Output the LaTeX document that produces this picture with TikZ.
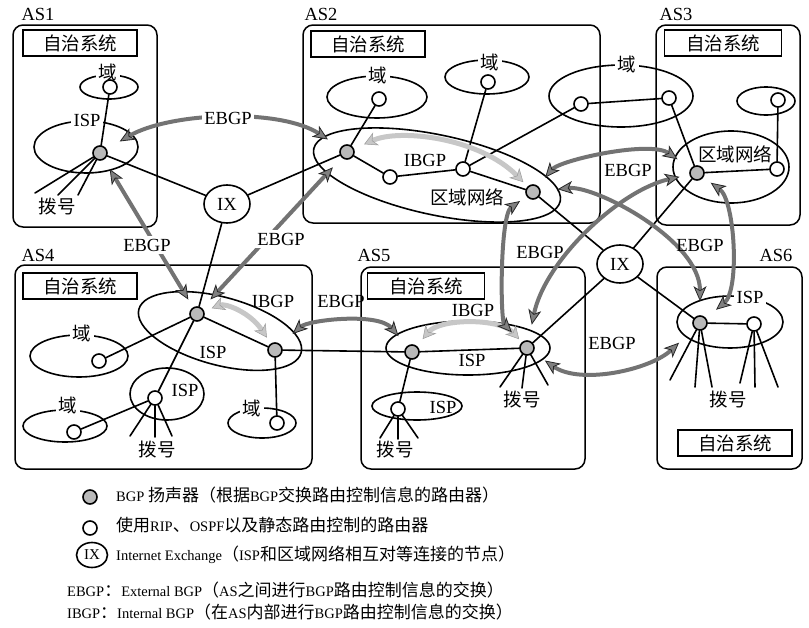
\documentclass[tikz,border=0pt]{standalone}
\usepackage{fontspec}
\setmainfont{Liberation Serif}
\newfontfamily\cjkf{Noto Sans CJK SC}
\usetikzlibrary{arrows.meta,shapes.geometric}
\newcommand\lc[1]{{\cjkf\fontsize{17}{18}\selectfont #1}}
\begin{document}
\begin{tikzpicture}[x=1pt,y=-1pt,
  font=\fontsize{18.5}{20}\selectfont,
  line cap=round,
  asbox/.style={draw,line width=1.5pt,rounded corners=10pt},
  namebox/.style={draw,line width=1.5pt,minimum width=114pt,minimum height=26pt,inner sep=0pt,font=\cjkf\fontsize{18.5}{20}\selectfont},
  ell/.style={draw,line width=1.6pt},
  link/.style={draw,line width=1.6pt},
  bgp/.style={circle,draw,line width=1.6pt,fill=gray!55,minimum size=14pt,inner sep=0pt},
  rtr/.style={circle,draw,line width=1.6pt,fill=white,minimum size=14pt,inner sep=0pt},
  ixn/.style={ellipse,draw,line width=1.6pt,fill=white,minimum width=46pt,minimum height=38pt,inner sep=0pt},
  gap/.style={fill=white,inner sep=2.5pt},
  lab/.style={inner sep=1pt},
  cj/.style={font=\cjkf\fontsize{18.5}{20}\selectfont},
  ebgp/.style={draw=black!55,line width=4pt,line cap=butt,
     >={Stealth[length=15pt,width=13pt,inset=4pt,line width=0.8pt,color=black!85,fill=black!50]},<->},
  ibgp/.style={draw=black!22,line width=5pt,line cap=butt,
     >={Stealth[length=13pt,width=14pt,inset=4pt,line width=0.5pt,color=black!40,fill=black!22]},<->}
]
\useasboundingbox (0,0) rectangle (809,627);

% ---------- AS boxes ----------
\draw[asbox] (13,25) rectangle (157,227);
\draw[asbox] (303,25) rectangle (600,223);
\draw[asbox] (656,25) rectangle (800,225);
\draw[asbox] (15,265) rectangle (312,469);
\draw[asbox] (361,267) rectangle (585,469);
\draw[asbox] (657,267) rectangle (802,469);
\node[lab] (as1) at (38,14) {AS1};
\node[lab] (as2) at (321,14) {AS2};
\node[lab] (as3) at (676,14) {AS3};
\node[lab] (as4) at (38,255) {AS4};
\node[lab] (as5) at (374,255) {AS5};
\node[lab] (as6) at (776,255) {AS6};
\node[namebox] (nb1) at (80,43) {自治系统};
\node[namebox] (nb2) at (368,44) {自治系统};
\node[namebox,minimum width=117pt] (nb3) at (723,43) {自治系统};
\node[namebox] (nb4) at (80,286) {自治系统};
\node[namebox,minimum width=117pt] (nb5) at (426,286) {自治系统};
\node[namebox] (nb6) at (735,443) {自治系统};

% ---------- ellipses ----------
\draw[ell] (109,87) ellipse (29pt and 12pt);
\draw[ell] (86,147) ellipse (52pt and 26pt);
\draw[ell] (377,97) ellipse (50pt and 21pt);
\draw[ell] (487,77) ellipse (42pt and 17pt);
\draw[ell] (621,96) ellipse (72pt and 31pt);
\draw[ell,rotate around={-12:(437,175)}] (437,175) ellipse (126pt and 40pt);
\draw[ell] (766,101) ellipse (29pt and 14pt);
\draw[ell] (731,167) ellipse (58pt and 36pt);
\draw[ell,rotate around={-15:(220,331)}] (220,331) ellipse (84pt and 34pt);
\draw[ell] (79,356) ellipse (49pt and 21pt);
\draw[ell] (167,394) ellipse (37pt and 26pt);
\draw[ell] (65,426) ellipse (42pt and 16pt);
\draw[ell] (262,423) ellipse (34pt and 15pt);
\draw[ell] (468,348) ellipse (82pt and 27pt);
\draw[ell] (417,406) ellipse (45pt and 14pt);
\draw[ell] (730,322) ellipse (53pt and 26pt);

% labels that break ellipses
\node[gap,cj] (g1) at (108,72) {域};
\node[gap] (g2) at (87,120) {ISP};
\node[gap,cj] (g3) at (378,75) {域};
\node[gap,cj] (g4) at (490,62) {域};
\node[gap,cj] (g5) at (627,64) {域};
\node[gap,cj] (g6) at (82,333) {域};
\node[gap,cj] (g7) at (68,405) {域};
\node[gap,cj] (g8) at (252,408) {域};
\node[gap] (g9) at (750,297) {ISP};

% ---------- routers ----------
\node[bgp] (b1) at (100,153) {};
\node[rtr] (r1d) at (110,87) {};
\node[bgp] (b2a) at (347,152) {};
\node[bgp] (b2b) at (533,192) {};
\node[rtr] (r2a) at (390,177) {};
\node[rtr] (r2b) at (463,169) {};
\node[rtr] (r2d1) at (379,99) {};
\node[rtr] (r2d2) at (488,82) {};
\node[rtr] (r23a) at (581,104) {};
\node[rtr] (r23b) at (669,98) {};
\node[bgp] (b3) at (697,173) {};
\node[rtr] (r3a) at (777,169) {};
\node[rtr] (r3b) at (778,100) {};
\node[bgp] (b4a) at (197,314) {};
\node[bgp] (b4b) at (275,350) {};
\node[rtr] (r4d1) at (99,361) {};
\node[rtr] (r4i) at (155,398) {};
\node[rtr] (r4d2) at (74,432) {};
\node[rtr] (r4d3) at (277,423) {};
\node[bgp] (b5a) at (412,352) {};
\node[bgp] (b5b) at (527,348) {};
\node[rtr] (r5i) at (398,409) {};
\node[bgp] (b6) at (700,323) {};
\node[rtr] (r6) at (754,324) {};
\node[ixn] (ix1) at (227,204) {IX};
\node[ixn] (ix2) at (620,264) {IX};

% dial-up ends
\coordinate (d1a) at (35,193); \coordinate (d1b) at (58,195); \coordinate (d1c) at (78,195);
\coordinate (d4a) at (130,436); \coordinate (d4b) at (155,437); \coordinate (d4c) at (172,436);
\coordinate (d5a) at (380,438); \coordinate (d5b) at (398,439); \coordinate (d5c) at (418,438);
\coordinate (d5d) at (500,387); \coordinate (d5e) at (522,388); \coordinate (d5f) at (548,385);
\coordinate (d6a) at (670,380); \coordinate (d6b) at (695,387); \coordinate (d6c) at (712,387);
\coordinate (d6d) at (740,383); \coordinate (d6e) at (755,387); \coordinate (d6f) at (778,387);

% ---------- links ----------
\draw[link] (r1d) -- (b1);
\draw[link] (b1) -- (d1a); \draw[link] (b1) -- (d1b); \draw[link] (b1) -- (d1c);
\draw[link] (b1) -- (ix1);
\draw[link] (ix1) -- (b2a);
\draw[link] (ix1) -- (b4a);
\draw[link] (r2d1) -- (b2a);
\draw[link] (b2a) -- (r2a);
\draw[link] (r2a) -- (r2b);
\draw[link] (r2b) -- (b2b);
\draw[link] (r2b) -- (r2d2);
\draw[link] (r2b) -- (r23a);
\draw[link] (r23a) -- (r23b);
\draw[link] (r23b) -- (b3);
\draw[link] (b3) -- (r3a);
\draw[link] (r3a) -- (r3b);
\draw[link] (b2b) -- (ix2);
\draw[link] (b3) -- (ix2);
\draw[link] (b5b) -- (ix2);
\draw[link] (b6) -- (ix2);
\draw[link] (b4a) -- (r4d1);
\draw[link] (b4a) -- (b4b);
\draw[link] (b4a) -- (r4i);
\draw[link] (r4i) -- (r4d2);
\draw[link] (b4b) -- (r4d3);
\draw[link] (b4b) -- (b5a);
\draw[link] (r4i) -- (d4a); \draw[link] (r4i) -- (d4b); \draw[link] (r4i) -- (d4c);
\draw[link] (b5a) -- (b5b);
\draw[link] (b5a) -- (r5i);
\draw[link] (r5i) -- (d5a); \draw[link] (r5i) -- (d5b); \draw[link] (r5i) -- (d5c);
\draw[link] (b5b) -- (d5d); \draw[link] (b5b) -- (d5e); \draw[link] (b5b) -- (d5f);
\draw[link] (b6) -- (r6);
\draw[link] (b6) -- (d6a); \draw[link] (b6) -- (d6b); \draw[link] (b6) -- (d6c);
\draw[link] (r6) -- (d6d); \draw[link] (r6) -- (d6e); \draw[link] (r6) -- (d6f);

% ---------- IBGP ----------
\draw[ibgp,shorten <=11pt,shorten >=6pt] (b2a) .. controls (400,128) and (480,138) .. (b2b);
\draw[ibgp,shorten <=8pt,shorten >=7pt] (b4a) .. controls (225,303) and (250,312) .. (b4b);
\draw[ibgp,shorten <=9pt,shorten >=4pt] (b5a) .. controls (440,318) and (500,318) .. (b5b);

% ---------- EBGP ----------
\draw[ebgp,shorten <=15pt,shorten >=15pt] (b1) .. controls (170,112) and (280,108) .. (b2a);
\draw[ebgp,shorten <=11pt,shorten >=9pt] (b1) -- (b4a);
\draw[ebgp,shorten <=13pt,shorten >=12pt] (b2a) -- (b4a);
\draw[ebgp,shorten <=16pt,shorten >=13pt] (b4b) .. controls (308,320) and (378,312) .. (b5a);
\draw[ebgp,shorten <=11pt,shorten >=16pt] (b2b) .. controls (560,160) and (650,140) .. (b3);
\draw[ebgp,shorten <=17pt,shorten >=14pt] (b2b) .. controls (595,185) and (700,240) .. (b6);
\draw[ebgp,shorten <=16pt,shorten >=10pt] (b5b) .. controls (545,260) and (620,190) .. (b3);
\draw[ebgp,shorten <=9pt,shorten >=13pt] (b3) .. controls (735,200) and (740,290) .. (b6);
\draw[ebgp,shorten <=8pt,shorten >=14pt] (b2b) .. controls (500,215) and (500,320) .. (b5b);
\draw[ebgp,shorten <=14pt,shorten >=21pt] (b5b) .. controls (580,385) and (650,370) .. (b6);

% ---------- EBGP labels ----------
\node[gap] (e1) at (228,118) {EBGP};
\node[gap] (e2) at (147,245) {EBGP};
\node[gap] (e3) at (281,239) {EBGP};
\node[lab] (e4) at (341,301) {EBGP};
\node[lab] (e5) at (628,170) {EBGP};
\node[lab] (e6) at (700,245) {EBGP};
\node[lab] (e7) at (540,252) {EBGP};
\node[lab] (e8) at (612,343) {EBGP};

% ---------- other labels ----------
\node[lab,cj] (t1) at (57,207) {拨号};
\node[lab] (t2) at (425,160) {IBGP};
\node[lab,cj] (t3) at (467,197) {区域网络};
\node[lab,cj] (t4) at (735,154) {区域网络};
\node[lab] (t5) at (213,352) {ISP};
\node[lab] (t6) at (273,301) {IBGP};
\node[lab] (t7) at (185,390) {ISP};
\node[lab,cj] (t8) at (157,450) {拨号};
\node[lab] (t9) at (473,310) {IBGP};
\node[lab] (t10) at (472,360) {ISP};
\node[lab] (t11) at (443,407) {ISP};
\node[lab,cj] (t12) at (395,450) {拨号};
\node[lab,cj] (t13) at (522,400) {拨号};
\node[lab,cj] (t14) at (728,400) {拨号};

% ---------- legend ----------
\node[bgp,minimum size=14pt] (lgb) at (90,497) {};
\node[rtr] (lgr) at (90,528) {};
\node[ixn,minimum width=31pt,minimum height=25pt,font=\fontsize{15}{16}\selectfont] (lgi) at (92,555) {IX};
\node[anchor=west,lab,font=\fontsize{14.5}{18}\selectfont] (lt1) at (115,495)
  {BGP \lc{扬声器（根据}BGP\lc{交换路由控制信息的路由器）}};
\node[anchor=west,lab,font=\fontsize{14.5}{18}\selectfont] (lt2) at (115,525)
  {\lc{使用}RIP\lc{、}OSPF\lc{以及静态路由控制的路由器}};
\node[anchor=west,lab,font=\fontsize{14.5}{18}\selectfont] (lt3) at (115,555)
  {Internet Exchange\lc{（}ISP\lc{和区域网络相互对等连接的节点）}};
\node[anchor=west,lab,font=\fontsize{14.5}{18}\selectfont] (lt4) at (66,590)
  {EBGP\lc{：}External BGP\lc{（}AS\lc{之间进行}BGP\lc{路由控制信息的交换）}};
\node[anchor=west,lab,font=\fontsize{14.5}{18}\selectfont] (lt5) at (66,612)
  {IBGP\lc{：}Internal BGP\lc{（在}AS\lc{内部进行}BGP\lc{路由控制信息的交换）}};
\end{tikzpicture}
\end{document}
